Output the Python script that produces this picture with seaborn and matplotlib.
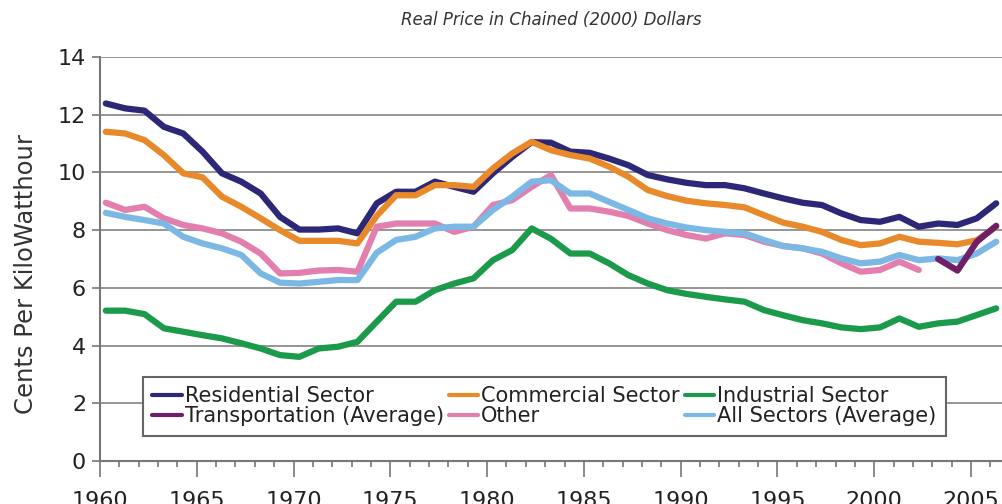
import numpy as np
import pandas as pd
import matplotlib
matplotlib.use("Agg")
import matplotlib.pyplot as plt
from matplotlib.lines import Line2D
from matplotlib.ticker import MultipleLocator
import seaborn as sns

nan = np.nan
years = list(range(1960, 2007))

# cents per kWh, real 2000 dollars
residential = [12.39, 12.22, 12.14, 11.58, 11.35, 10.72, 9.97, 9.68, 9.27, 8.46,
               8.02, 8.02, 8.06, 7.89, 8.93, 9.33, 9.33, 9.68, 9.50, 9.33,
               9.97, 10.54, 11.05, 11.03, 10.72, 10.68, 10.48, 10.25, 9.91, 9.76,
               9.64, 9.56, 9.56, 9.45, 9.27, 9.10, 8.95, 8.87, 8.58, 8.35,
               8.29, 8.46, 8.12, 8.23, 8.18, 8.41, 8.93]
commercial = [11.41, 11.35, 11.12, 10.60, 9.97, 9.83, 9.16, 8.81, 8.41, 8.00,
              7.63, 7.63, 7.63, 7.54, 8.50, 9.21, 9.21, 9.56, 9.56, 9.50,
              10.14, 10.66, 11.06, 10.77, 10.60, 10.48, 10.20, 9.85, 9.39, 9.18,
              9.02, 8.93, 8.87, 8.79, 8.52, 8.26, 8.12, 7.94, 7.66, 7.48,
              7.54, 7.77, 7.60, 7.56, 7.51, 7.65, 8.12]
industrial = [5.21, 5.21, 5.09, 4.60, 4.48, 4.36, 4.25, 4.08, 3.90, 3.67,
              3.61, 3.90, 3.96, 4.13, 4.83, 5.52, 5.52, 5.92, 6.15, 6.33,
              6.96, 7.31, 8.06, 7.70, 7.19, 7.19, 6.85, 6.44, 6.15, 5.92,
              5.79, 5.69, 5.60, 5.52, 5.23, 5.05, 4.88, 4.77, 4.63, 4.57,
              4.63, 4.94, 4.65, 4.77, 4.83, 5.06, 5.29]
transportation = [nan] * 43 + [7.00, 6.60, 7.60, 8.15]
other = [8.95, 8.70, 8.81, 8.41, 8.18, 8.06, 7.89, 7.60, 7.19, 6.50,
         6.52, 6.60, 6.62, 6.56, 8.12, 8.23, 8.23, 8.23, 7.94, 8.12,
         8.87, 9.04, 9.50, 9.91, 8.75, 8.75, 8.64, 8.49, 8.23, 8.00,
         7.83, 7.71, 7.89, 7.83, 7.60, 7.45, 7.37, 7.19, 6.85, 6.56,
         6.62, 6.91, 6.62] + [nan] * 4
all_sectors = [8.60, 8.46, 8.35, 8.23, 7.77, 7.54, 7.37, 7.14, 6.50, 6.18,
               6.15, 6.21, 6.27, 6.27, 7.22, 7.66, 7.77, 8.06, 8.12, 8.12,
               8.70, 9.16, 9.68, 9.73, 9.27, 9.27, 8.98, 8.70, 8.41, 8.23,
               8.09, 8.00, 7.94, 7.89, 7.66, 7.45, 7.37, 7.25, 7.02, 6.85,
               6.91, 7.14, 6.96, 7.02, 6.96, 7.19, 7.60]

names = ["Residential Sector", "Commercial Sector", "Industrial Sector",
         "Other", "All Sectors (Average)", "Transportation (Average)"]
colors = ["#2c2877", "#e8892c", "#1c9a4c", "#e27fae", "#7cb8e4", "#6e1f68"]

wide = pd.DataFrame({"year": years,
                     names[0]: residential, names[1]: commercial,
                     names[2]: industrial, names[3]: other,
                     names[4]: all_sectors, names[5]: transportation})
df = wide.melt(id_vars="year", var_name="series", value_name="price").dropna()
# excel category axis: each point sits a little inside its year slot
df["pos"] = df["year"] + 0.3

sns.set_style("white")
plt.rcParams["font.family"] = ["DejaVu Sans"]

fig = plt.figure(figsize=(10.02, 5.04), dpi=100)
ax = fig.add_axes([0.0998, 0.0853, 0.9002, 0.8016])

sns.lineplot(data=df, x="pos", y="price", hue="series", hue_order=names,
             palette=dict(zip(names, colors)), linewidth=4.5, estimator=None,
             legend=False, ax=ax)
for ln in ax.lines:
    ln.set_solid_capstyle("round")
    ln.set_solid_joinstyle("round")

ax.set_xlim(1960, 2006.6)
ax.set_ylim(0, 14)
ax.set_yticks(range(0, 15, 2))
ax.set_xticks(range(1960, 2006, 5))
ax.xaxis.set_minor_locator(MultipleLocator(1))
ax.grid(axis="y", color="#8c8c8c", linewidth=1.3)
ax.set_axisbelow(True)
for s in ["top", "right"]:
    ax.spines[s].set_visible(False)
for s in ["left", "bottom"]:
    ax.spines[s].set_color("#777777")
    ax.spines[s].set_linewidth(1.5)

ax.tick_params(axis="y", which="major", length=6, width=1.2, color="#777777",
               labelsize=16, labelcolor="#222222", pad=4, left=True)
ax.tick_params(axis="x", which="major", length=11.5, width=1.2, color="#777777",
               labelsize=16, labelcolor="#222222", pad=10, bottom=True)
ax.tick_params(axis="x", which="minor", length=4.5, width=1.2, color="#777777",
               bottom=True)

ax.set_xlabel("")
ax.set_ylabel("Cents Per KiloWatthour", fontsize=17.5, color="#333333")
ax.yaxis.set_label_coords(-0.069, 0.462)

fig.text(551 / 1002, 1 - 20 / 504, "Real Price in Chained (2000) Dollars",
         ha="center", va="center", fontsize=12, style="italic", color="#333333")

# legend fills column-wise, so interleave to get the reference row order
legend_order = ["Residential Sector", "Transportation (Average)",
                "Commercial Sector", "Other",
                "Industrial Sector", "All Sectors (Average)"]
color_of = dict(zip(names, colors))
handles = [Line2D([], [], color=color_of[n], linewidth=3) for n in legend_order]
leg = ax.legend(handles, legend_order, ncol=3, loc="upper left",
                bbox_to_anchor=(0.0477, 0.208), fontsize=15,
                handlelength=1.4, handletextpad=0.15, columnspacing=0.25,
                labelspacing=0.0, borderpad=0.45, borderaxespad=0,
                fancybox=False, framealpha=1, edgecolor="#666666")
leg.get_frame().set_linewidth(1.5)
for t in leg.get_texts():
    t.set_color("#222222")

fig.savefig("out.png", dpi=100)
